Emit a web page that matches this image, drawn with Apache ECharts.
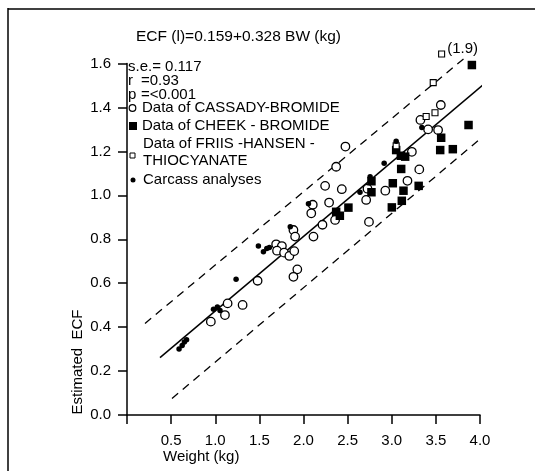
<!DOCTYPE html>
<html>
<head>
<meta charset="utf-8">
<script src="https://cdn.jsdelivr.net/npm/echarts@6/dist/echarts.min.js"></script>
<style>html,body{margin:0;padding:0;background:#fff;}#c{width:542px;height:471px;}</style>
</head>
<body>
<div id="c"></div>
<script>
// Data: [weight (kg), estimated ECF]
var cassady = [[0.95,0.425],[1.11,0.455],[1.14,0.508],[1.31,0.501],[1.48,0.611],[1.69,0.777],[1.755,0.769],[1.70,0.748],[1.78,0.739],[1.84,0.724],[1.895,0.746],[1.93,0.663],[1.886,0.629],[1.886,0.842],[1.905,0.812],[2.113,0.812],[2.215,0.866],[2.105,0.957],[2.088,0.918],[2.29,0.967],[2.245,1.043],[2.434,1.028],[2.37,1.13],[2.475,1.222],[2.358,0.888],[2.71,0.979],[2.725,1.03],[2.742,0.879],[2.927,1.021],[3.178,1.066],[3.312,1.118],[3.228,1.198],[3.325,1.343],[3.412,1.30],[3.525,1.297],[3.556,1.411]];
var cheek = [[2.37,0.925],[2.412,0.907],[2.509,0.944],[2.77,1.064],[2.77,1.014],[3.001,0.945],[3.012,1.055],[3.114,0.975],[3.133,1.021],[3.305,1.043],[3.107,1.12],[3.05,1.206],[3.103,1.18],[3.152,1.176],[3.549,1.206],[3.692,1.21],[3.56,1.262],[3.87,1.32],[3.908,1.593]];
var friis = [[3.05,1.225],[3.39,1.359],[3.49,1.376],[3.47,1.513],[3.565,1.643]];
var friisLabels = ['', '', '', '', '(1.9)'];
var carcass = [[0.59,0.30],[0.625,0.316],[0.65,0.332],[0.675,0.343],[0.98,0.481],[1.024,0.492],[1.054,0.476],[1.236,0.618],[1.489,0.769],[1.546,0.743],[1.584,0.758],[1.613,0.763],[1.85,0.857],[2.056,0.962],[2.64,1.014],[2.755,1.085],[2.914,1.146],[3.05,1.246],[3.341,1.309]];
var regression = [[0.374,0.261],[4.048,1.507]];
var upperBand = [[0.204,0.417],[3.84,1.63]];
var lowerBand = [[0.51,0.075],[4.1,1.29]];
var xTicks = ['0.5','1.0','1.5','2.0','2.5','3.0','3.5','4.0'];
var yTicks = ['0.0','0.2','0.4','0.6','0.8','1.0','1.2','1.4','1.6'];

var FONT = "'Liberation Sans', Arial, sans-serif";
var chart = echarts.init(document.getElementById('c'), null, {renderer:'canvas'});

function txt(x, y, s, size) {
  return {type:'text', x:x, y:y, style:{text:s, fill:'#000', font:(size || 15) + 'px ' + FONT, textVerticalAlign:'middle'}};
}

var option = {
  backgroundColor:'#fff',
  animation:false,
  grid:{left:127, right:62, top:63.5, bottom:56, containLabel:false},
  xAxis:{type:'value', min:0, max:4, interval:0.5,
    axisLine:{show:true, lineStyle:{color:'#000', width:1.5}},
    axisTick:{show:true, length:9, lineStyle:{color:'#000', width:1.5}},
    axisLabel:{color:'#000', fontSize:15, fontFamily:FONT, margin:18,
      formatter:function(v){ var s = v.toFixed(1); return xTicks.indexOf(s) >= 0 ? s : ''; }},
    splitLine:{show:false}},
  yAxis:{type:'value', min:0, max:1.6, interval:0.2,
    axisLine:{show:true, lineStyle:{color:'#000', width:1.5}},
    axisTick:{show:true, length:9, lineStyle:{color:'#000', width:1.5}},
    axisLabel:{color:'#000', fontSize:15, fontFamily:FONT, margin:16,
      formatter:function(v){ var s = v.toFixed(1); return yTicks.indexOf(s) >= 0 ? s : ''; }},
    splitLine:{show:false}},
  series:[
    {type:'line', data:regression, symbol:'none', clip:false, lineStyle:{color:'#000', width:1.5}, z:1},
    {type:'line', data:upperBand, symbol:'none', clip:false, lineStyle:{color:'#000', width:1.3, type:[8,6]}, z:1},
    {type:'line', data:lowerBand, symbol:'none', clip:false, lineStyle:{color:'#000', width:1.3, type:[8,6]}, z:1},
    {type:'scatter', name:'cassady', data:cassady, symbol:'circle', symbolSize:8.5, clip:false,
      itemStyle:{color:'#fff', borderColor:'#000', borderWidth:1.3, opacity:1}, z:3},
    {type:'scatter', name:'cheek', data:cheek, symbol:'rect', symbolSize:8.5, clip:false,
      itemStyle:{color:'#000', opacity:1}, z:3},
    {type:'scatter', name:'friis', clip:false,
      data:friis.map(function(p,i){ return {value:p, label:{show:friisLabels[i] !== '', formatter:friisLabels[i]}}; }),
      symbol:'rect', symbolSize:6,
      label:{position:'right', distance:2, color:'#000', fontSize:15, fontFamily:FONT, offset:[0,-5]},
      itemStyle:{color:'#fff', borderColor:'#000', borderWidth:1.1, opacity:1}, z:4},
    {type:'scatter', name:'carcass', data:carcass, symbol:'circle', symbolSize:5.5, clip:false,
      itemStyle:{color:'#000', opacity:1}, z:4}
  ],
  graphic:[
    {type:'line', shape:{x1:8, y1:8, x2:8, y2:471}, style:{stroke:'#000', lineWidth:1.5}},
    {type:'line', shape:{x1:8, y1:9, x2:535, y2:9}, style:{stroke:'#000', lineWidth:1.5}},
    txt(136, 37, 'ECF (l)=0.159+0.328 BW (kg)', 15.5),
    txt(128, 67, 's.e.= 0.117'),
    txt(128, 81, 'r'),
    txt(141, 81, '=0.93'),
    txt(128, 95, 'p'),
    txt(141, 95, '=<0.001'),
    {type:'circle', shape:{cx:132.5, cy:108, r:3.3}, style:{fill:'#fff', stroke:'#000', lineWidth:1.2}},
    txt(142, 108, 'Data of CASSADY-BROMIDE'),
    {type:'rect', shape:{x:129, y:122, width:8, height:8}, style:{fill:'#000'}},
    txt(142, 126, 'Data of CHEEK - BROMIDE'),
    {type:'rect', shape:{x:130, y:153, width:5, height:5}, style:{fill:'#fff', stroke:'#000', lineWidth:1}},
    txt(143, 144, 'Data of FRIIS -HANSEN -'),
    txt(143, 161, 'THIOCYANATE'),
    {type:'circle', shape:{cx:133, cy:180, r:2.5}, style:{fill:'#000'}},
    txt(143, 180, 'Carcass analyses'),
    txt(163, 457, 'Weight (kg)'),
    {type:'text', x:78, y:362, rotation:Math.PI/2,
      style:{text:'Estimated  ECF', fill:'#000', font:'15px ' + FONT, textAlign:'center', textVerticalAlign:'middle'}}
  ]
};
chart.setOption(option);
</script>
</body>
</html>
